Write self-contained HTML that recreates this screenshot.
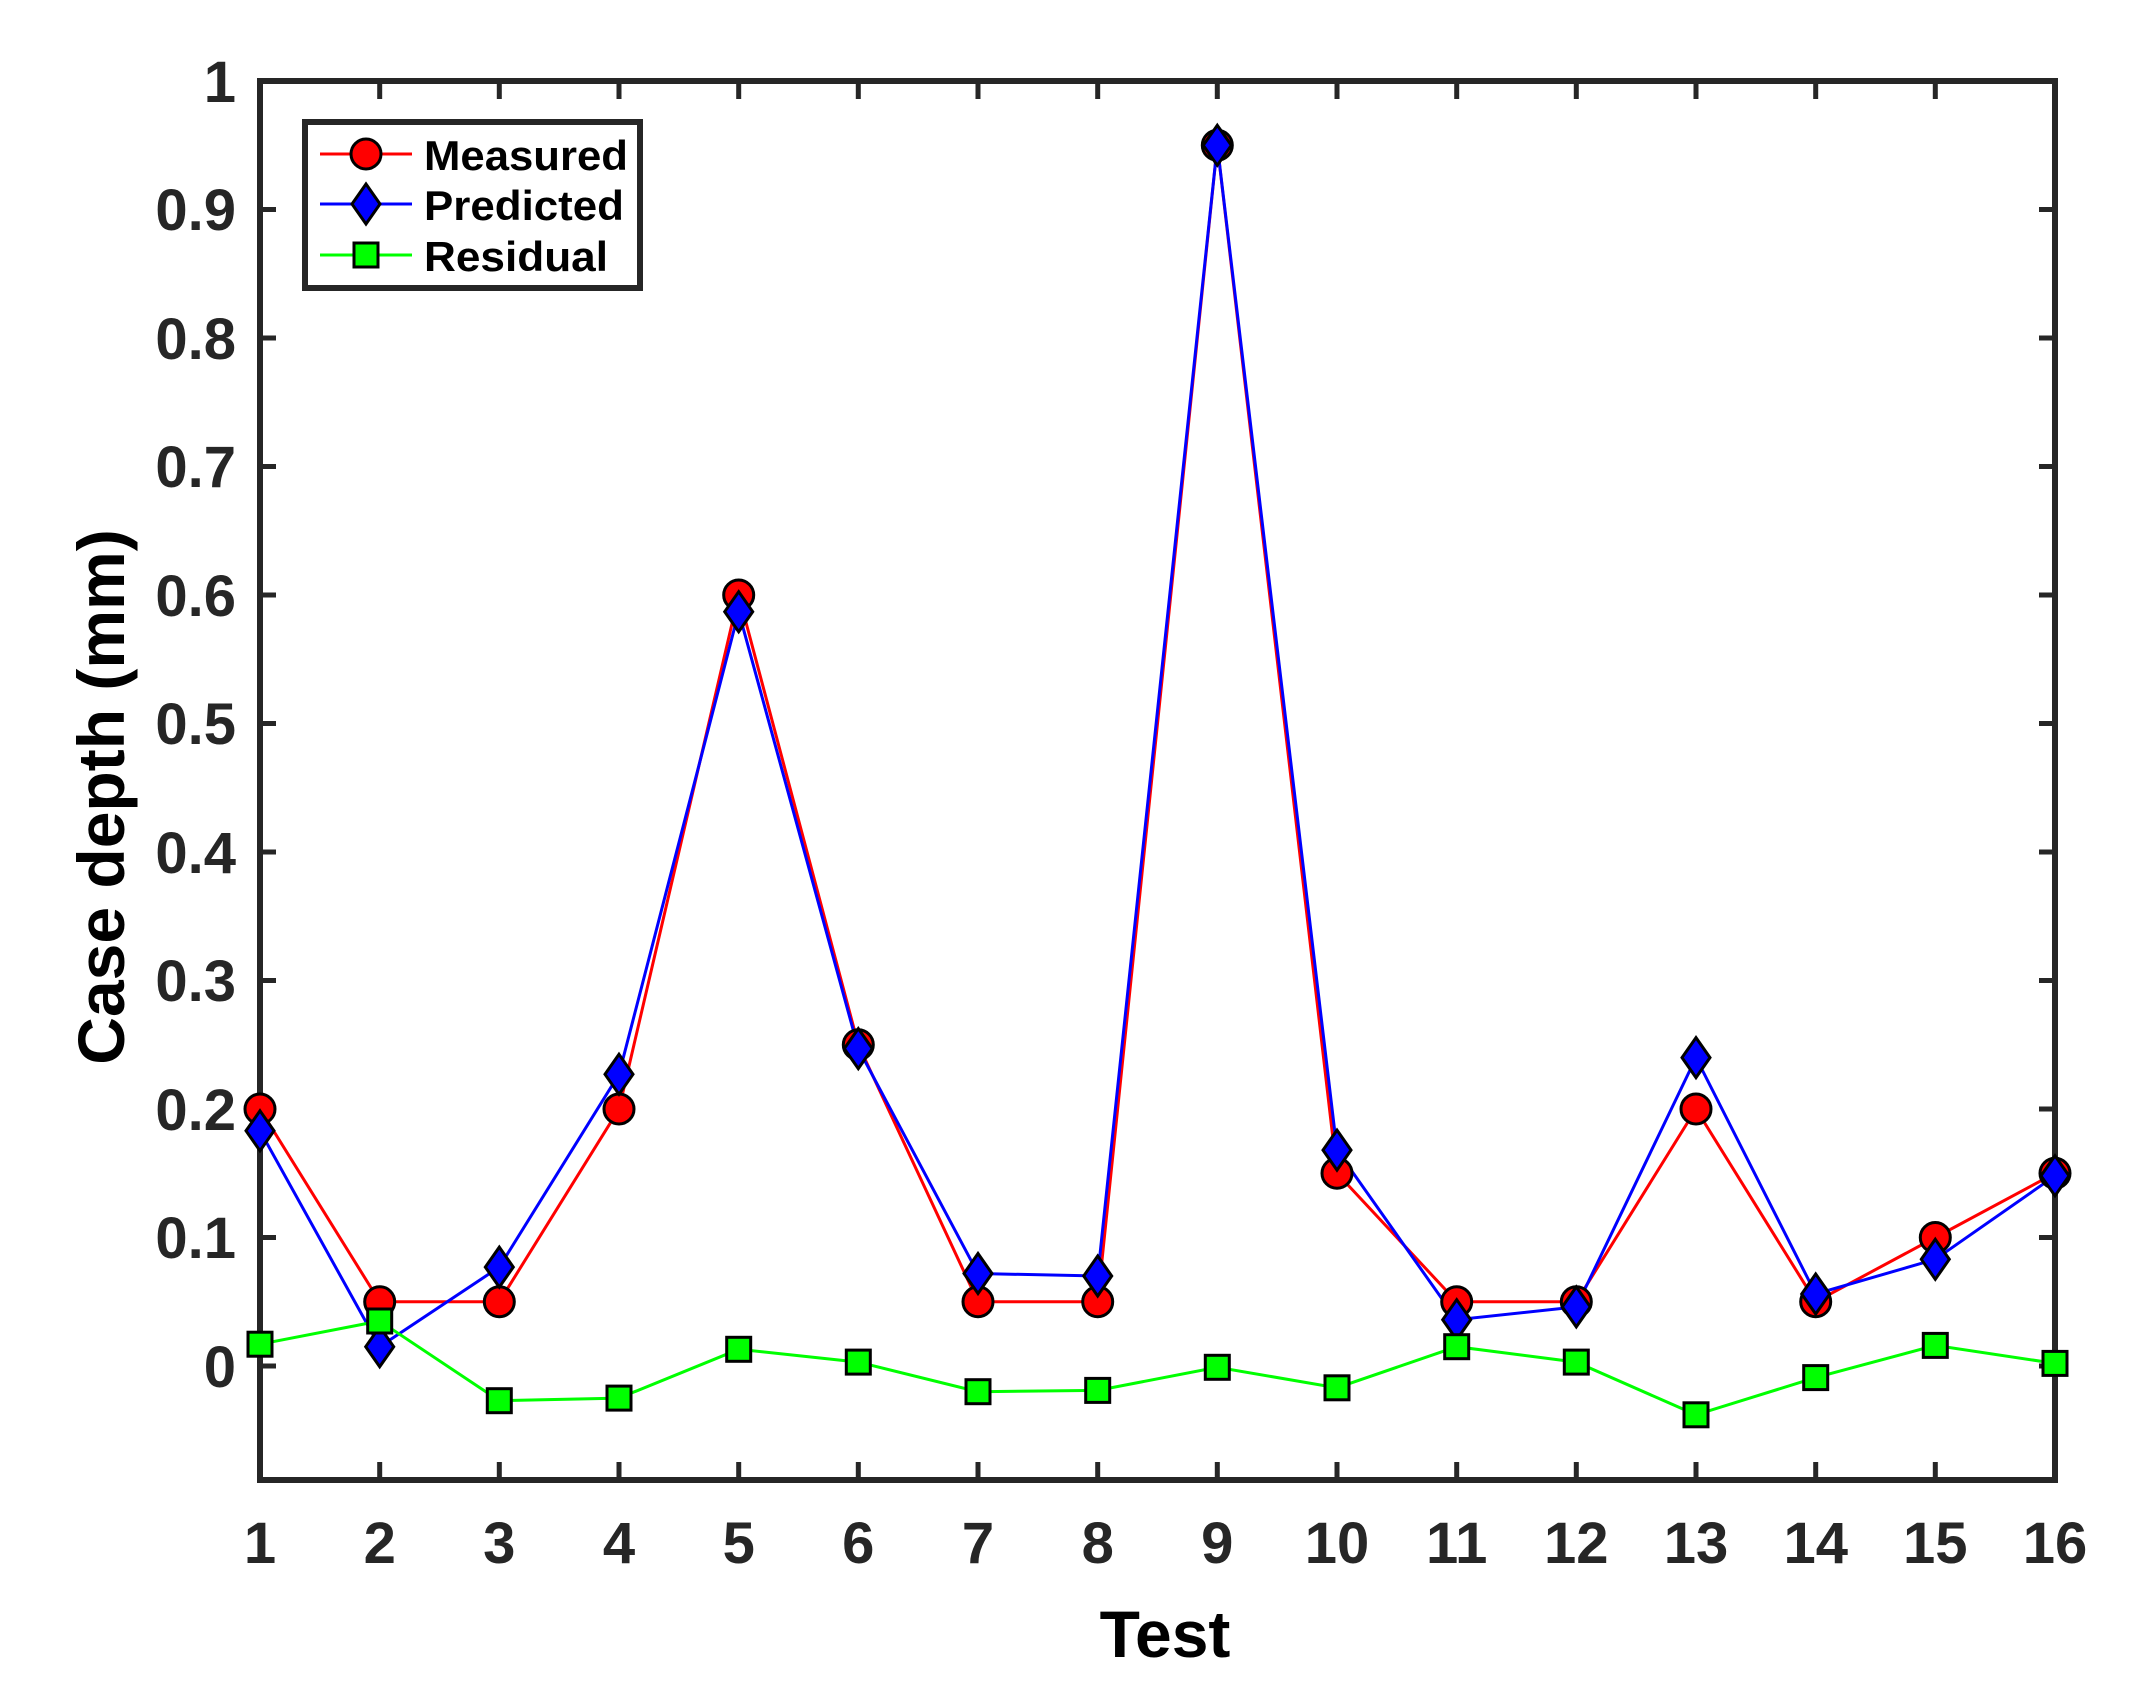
<!DOCTYPE html>
<html><head><meta charset="utf-8"><style>html,body{margin:0;padding:0;background:#fff}svg{display:block}</style></head>
<body>
<svg width="2134" height="1696" viewBox="0 0 2134 1696" xmlns="http://www.w3.org/2000/svg" font-family="Liberation Sans, Arial, sans-serif" font-weight="bold">
<defs>
<circle id="c" r="15" fill="#f00" stroke="#000" stroke-width="3"/>
<path id="d" d="M0,-20 L14,0 L0,20 L-14,0 Z" fill="#00f" stroke="#000" stroke-width="3"/>
<rect id="s" x="-12" y="-12" width="24" height="24" fill="#0f0" stroke="#000" stroke-width="3"/>
</defs>
<rect width="2134" height="1696" fill="#fff"/>
<g stroke="#262626" stroke-width="5">
<path d="M260,209.5 h16 M260,338 h16 M260,466.5 h16 M260,595 h16 M260,723.5 h16 M260,852 h16 M260,980.5 h16 M260,1109 h16 M260,1237.5 h16 M260,1366 h16"/>
<path d="M2055,209.5 h-16 M2055,338 h-16 M2055,466.5 h-16 M2055,595 h-16 M2055,723.5 h-16 M2055,852 h-16 M2055,980.5 h-16 M2055,1109 h-16 M2055,1237.5 h-16 M2055,1366 h-16"/>
<path d="M379.7,1480 v-18 M499.3,1480 v-18 M619,1480 v-18 M738.7,1480 v-18 M858.3,1480 v-18 M978,1480 v-18 M1097.7,1480 v-18 M1217.3,1480 v-18 M1337,1480 v-18 M1456.7,1480 v-18 M1576.3,1480 v-18 M1696,1480 v-18 M1815.7,1480 v-18 M1935.3,1480 v-18"/>
<path d="M379.7,81 v18 M499.3,81 v18 M619,81 v18 M738.7,81 v18 M858.3,81 v18 M978,81 v18 M1097.7,81 v18 M1217.3,81 v18 M1337,81 v18 M1456.7,81 v18 M1576.3,81 v18 M1696,81 v18 M1815.7,81 v18 M1935.3,81 v18"/>
</g>
<rect x="260" y="81" width="1795" height="1399" fill="none" stroke="#262626" stroke-width="6"/>
<polyline fill="none" stroke="#f00" stroke-width="3" points="260,1109 379.7,1301.75 499.3,1301.75 619,1109 738.7,595 858.3,1044.75 978,1301.75 1097.7,1301.75 1217.3,145.25 1337,1173.25 1456.7,1301.75 1576.3,1301.75 1696,1109 1815.7,1301.75 1935.3,1237.5 2055,1173.25"/>
<polyline fill="none" stroke="#00f" stroke-width="3" points="260,1130.8 379.7,1346.7 499.3,1267.1 619,1074.3 738.7,611.7 858.3,1048.6 978,1273.5 1097.7,1276 1217.3,145.3 1337,1150.1 1456.7,1319.7 1576.3,1306.9 1696,1057.6 1815.7,1294 1935.3,1259.3 2055,1175.8"/>
<polyline fill="none" stroke="#0f0" stroke-width="3" points="260,1344.2 379.7,1321 499.3,1400.7 619,1398.1 738.7,1349.3 858.3,1362.1 978,1391.7 1097.7,1390.4 1217.3,1367.3 1337,1387.8 1456.7,1346.7 1576.3,1362.1 1696,1414.8 1815.7,1377.6 1935.3,1345.4 2055,1363.4"/>
<g>
<use href="#c" x="260" y="1109"/><use href="#c" x="379.7" y="1301.75"/><use href="#c" x="499.3" y="1301.75"/><use href="#c" x="619" y="1109"/><use href="#c" x="738.7" y="595"/><use href="#c" x="858.3" y="1044.75"/><use href="#c" x="978" y="1301.75"/><use href="#c" x="1097.7" y="1301.75"/><use href="#c" x="1217.3" y="145.25"/><use href="#c" x="1337" y="1173.25"/><use href="#c" x="1456.7" y="1301.75"/><use href="#c" x="1576.3" y="1301.75"/><use href="#c" x="1696" y="1109"/><use href="#c" x="1815.7" y="1301.75"/><use href="#c" x="1935.3" y="1237.5"/><use href="#c" x="2055" y="1173.25"/>
</g>
<g>
<use href="#d" x="260" y="1130.8"/><use href="#d" x="379.7" y="1346.7"/><use href="#d" x="499.3" y="1267.1"/><use href="#d" x="619" y="1074.3"/><use href="#d" x="738.7" y="611.7"/><use href="#d" x="858.3" y="1048.6"/><use href="#d" x="978" y="1273.5"/><use href="#d" x="1097.7" y="1276"/><use href="#d" x="1217.3" y="145.3"/><use href="#d" x="1337" y="1150.1"/><use href="#d" x="1456.7" y="1319.7"/><use href="#d" x="1576.3" y="1306.9"/><use href="#d" x="1696" y="1057.6"/><use href="#d" x="1815.7" y="1294"/><use href="#d" x="1935.3" y="1259.3"/><use href="#d" x="2055" y="1175.8"/>
</g>
<g>
<use href="#s" x="260" y="1344.2"/><use href="#s" x="379.7" y="1321"/><use href="#s" x="499.3" y="1400.7"/><use href="#s" x="619" y="1398.1"/><use href="#s" x="738.7" y="1349.3"/><use href="#s" x="858.3" y="1362.1"/><use href="#s" x="978" y="1391.7"/><use href="#s" x="1097.7" y="1390.4"/><use href="#s" x="1217.3" y="1367.3"/><use href="#s" x="1337" y="1387.8"/><use href="#s" x="1456.7" y="1346.7"/><use href="#s" x="1576.3" y="1362.1"/><use href="#s" x="1696" y="1414.8"/><use href="#s" x="1815.7" y="1377.6"/><use href="#s" x="1935.3" y="1345.4"/><use href="#s" x="2055" y="1363.4"/>
</g>
<g fill="#262626" font-size="58" text-anchor="end">
<text x="236" y="102">1</text><text x="236" y="230">0.9</text><text x="236" y="359">0.8</text><text x="236" y="487">0.7</text><text x="236" y="616">0.6</text><text x="236" y="744">0.5</text><text x="236" y="873">0.4</text><text x="236" y="1001">0.3</text><text x="236" y="1130">0.2</text><text x="236" y="1258">0.1</text><text x="236" y="1387">0</text>
</g>
<g fill="#262626" font-size="58" text-anchor="middle">
<text x="260" y="1563">1</text><text x="379.7" y="1563">2</text><text x="499.3" y="1563">3</text><text x="619" y="1563">4</text><text x="738.7" y="1563">5</text><text x="858.3" y="1563">6</text><text x="978" y="1563">7</text><text x="1097.7" y="1563">8</text><text x="1217.3" y="1563">9</text><text x="1337" y="1563">10</text><text x="1456.7" y="1563">11</text><text x="1576.3" y="1563">12</text><text x="1696" y="1563">13</text><text x="1815.7" y="1563">14</text><text x="1935.3" y="1563">15</text><text x="2055" y="1563">16</text>
</g>
<text x="1165" y="1657" font-size="66" text-anchor="middle" fill="#000">Test</text>
<text transform="translate(124,797) rotate(-90)" font-size="66" text-anchor="middle" fill="#000">Case depth (mm)</text>
<rect x="305" y="122" width="335" height="166" fill="#fff" stroke="#262626" stroke-width="6"/>
<g stroke-width="3">
<line x1="320" y1="154" x2="412" y2="154" stroke="#f00"/>
<line x1="320" y1="204" x2="412" y2="204" stroke="#00f"/>
<line x1="320" y1="255" x2="412" y2="255" stroke="#0f0"/>
</g>
<use href="#c" x="366" y="154"/><use href="#d" x="366" y="204"/><use href="#s" x="366" y="255"/>
<g font-size="42" fill="#000">
<text x="424" y="170" textLength="204" lengthAdjust="spacingAndGlyphs">Measured</text><text x="424" y="220" textLength="200" lengthAdjust="spacingAndGlyphs">Predicted</text><text x="424" y="271" textLength="184" lengthAdjust="spacingAndGlyphs">Residual</text>
</g>
</svg>
</body></html>
